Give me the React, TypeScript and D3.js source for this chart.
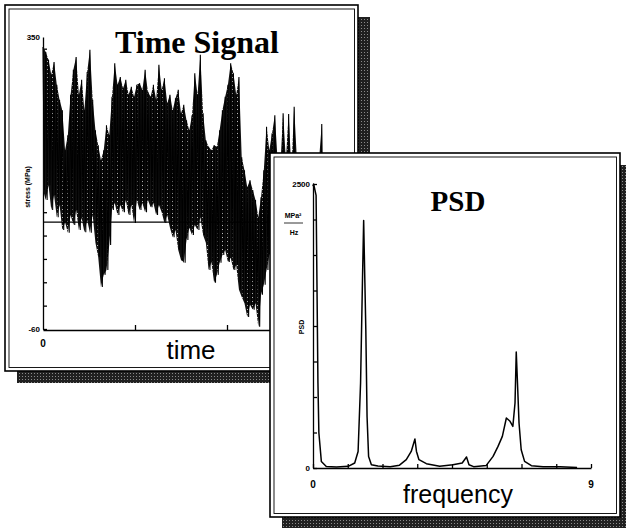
import React, { useEffect, useRef } from 'react';
import * as d3 from 'd3';

const W = 626;
const H = 528;

// time signal, one swing per sample (upper and lower value in MPa), sample step in time units
const timeStep = 0.03;
const stressHigh = [
    336, 329, 318, 297, 315, 283, 262, 247, 191, 212,
    269, 304, 322, 269, 290, 247, 301, 332, 262, 219,
    198, 177, 191, 226, 212, 266, 313, 283, 294, 278,
    290, 269, 280, 266, 283, 285, 276, 304, 273, 266,
    283, 262, 311, 276, 292, 257, 269, 247, 264, 276,
    243, 255, 233, 219, 240, 299, 269, 325, 243, 205,
    196, 191, 198, 196, 219, 247, 266, 283, 313, 299,
    269, 294, 181, 163, 139, 149, 135, 121, 97, 125,
    163, 224, 191, 215, 240, 177, 170, 243, 177, 242,
    163, 252, 177, 156, 170, 149, 163, 156, 170, 149,
    177, 228,
];
const stressLow = [
    135, 121, 142, 107, 128, 97, 114, 79, 90, 75,
    100, 86, 107, 79, 96, 76, 93, 75, 100, 61,
    41, -1, 16, 23, 58, 107, 117, 100, 114, 104,
    121, 100, 114, 89, 121, 107, 117, 104, 121, 111,
    117, 100, 114, 104, 89, 100, 82, 69, 79, 51,
    37, 33, 65, 82, 72, 86, 79, 97, 72, 61,
    23, 34, 5, 16, 33, 44, 51, 34, 40, 23,
    30, -5, -15, -24, -43, -26, -33, -24, -57, -12,
    2, 23, 44, 51, 65, 79, 72, 65, 86, 79,
    58, 65, 51, 44, 58, 37, 51, 44, 58, 37,
    51, 58,
];
const stressMean = 90;
const stressDomain = [-60, 350];
const stressTickLabels = ['-60', '350'];
const timeDomain = [0, 3];
const timeTicks = [1, 2, 3];

// power spectral density
const psdFreq = [
    0, 0.02, 0.1, 0.16, 0.19, 0.27, 0.43, 0.76, 1.14, 1.35,
    1.46, 1.54, 1.6, 1.64, 1.68, 1.71, 1.75, 1.8, 1.89, 2.1,
    2.5, 2.8, 3.02, 3.18, 3.3, 3.35, 3.43, 3.67, 4.1, 4.53,
    4.83, 4.97, 5.05, 5.2, 5.61, 5.83, 5.99, 6.13, 6.26, 6.37,
    6.47, 6.54, 6.58, 6.62, 6.67, 6.74, 6.85, 7.07, 7.45, 8.0,
    8.55,
];
const psdValue = [
    2480, 2500, 2400, 748, 310, 58, 14, 8, 15, 44,
    146, 748, 1628, 2179, 1628, 1217, 454, 102, 29, 18,
    12, 25, 73, 146, 255, 146, 73, 38, 15, 29,
    44, 97, 29, 12, 23, 102, 190, 278, 440, 414,
    366, 572, 1021, 748, 396, 161, 58, 20, 12, 10,
    5,
];
const psdDomain = [0, 2500];
const psdTickLabels = ['0', '2500'];
const freqDomain = [0, 9];
const freqTickLabels = ['0', '9'];

export default function App() {
    const ref = useRef<SVGSVGElement>(null);

    useEffect(() => {
        const svg = d3.select(ref.current);
        svg.selectAll('*').remove();

        svg.append('rect').attr('width', W).attr('height', H).attr('fill', '#fff');

        const defs = svg.append('defs');
        // dithered shadow like the scan
        const pat = defs
            .append('pattern')
            .attr('id', 'dither')
            .attr('width', 3)
            .attr('height', 3)
            .attr('patternUnits', 'userSpaceOnUse');
        pat.append('rect').attr('width', 3).attr('height', 3).attr('fill', '#202020');
        pat.append('rect').attr('x', 1).attr('y', 1).attr('width', 1).attr('height', 1).attr('fill', '#8a8a8a');
        // speckled black for the dense signal band
        const spk = defs
            .append('pattern')
            .attr('id', 'speckle')
            .attr('width', 5)
            .attr('height', 4)
            .attr('patternUnits', 'userSpaceOnUse');
        spk.append('rect').attr('width', 5).attr('height', 4).attr('fill', '#111');
        spk.append('rect').attr('x', 2).attr('y', 1).attr('width', 1).attr('height', 1).attr('fill', '#bbb');

        const sans = 'Liberation Sans, Arial, sans-serif';
        const serif = 'Liberation Serif, Times New Roman, serif';

        function panel(x: number, y: number, w: number, h: number) {
            svg.append('rect')
                .attr('x', x + 12)
                .attr('y', y + 12)
                .attr('width', w)
                .attr('height', h)
                .attr('fill', 'url(#dither)');
            svg.append('rect')
                .attr('x', x)
                .attr('y', y)
                .attr('width', w)
                .attr('height', h)
                .attr('fill', '#fff')
                .attr('stroke', '#000')
                .attr('stroke-width', 1.6);
            svg.append('rect')
                .attr('x', x + 4)
                .attr('y', y + 4)
                .attr('width', w - 7.5)
                .attr('height', h - 7.5)
                .attr('fill', 'none')
                .attr('stroke', '#000')
                .attr('stroke-width', 0.9);
        }

        // ---------- time signal panel ----------
        panel(5, 5, 353, 366);

        const xT = d3.scaleLinear().domain(timeDomain).range([43, 319]);
        const yT = d3.scaleLinear().domain(stressDomain).range([329, 37]);

        const stressTicks = d3.range(stressDomain[0], stressDomain[1], (stressDomain[1] - stressDomain[0]) / 12.5);
        svg.append('g')
            .attr('transform', 'translate(43,0)')
            .call(d3.axisLeft(yT).tickValues(stressTicks).tickSize(-4).tickSizeOuter(0).tickFormat(() => ''))
            .call((g) => g.selectAll('path,line').attr('stroke-width', 1.3));
        svg.append('g')
            .attr('transform', 'translate(0,330)')
            .call(
                d3
                    .axisBottom(xT.copy().range([43, 358]).domain([0, (3 * (358 - 43)) / (319 - 43)]))
                    .tickValues(timeTicks)
                    .tickSize(-5)
                    .tickSizeOuter(0)
                    .tickFormat(() => '')
            )
            .call((g) => g.selectAll('path,line').attr('stroke-width', 1.3));

        // band between the swings, then the swings themselves on top
        const band = d3
            .area<number>()
            .x((d, i) => xT(i * timeStep))
            .y0((d, i) => yT(stressLow[i]))
            .y1((d) => yT(d));
        svg.append('path').attr('d', band(stressHigh)).attr('fill', 'url(#speckle)');

        const zig: [number, number][] = [];
        stressHigh.forEach((v, i) => {
            zig.push([i * timeStep, v]);
            zig.push([i * timeStep + timeStep / 2, stressLow[i]]);
        });
        const line = d3
            .line<[number, number]>()
            .x((d) => xT(d[0]))
            .y((d) => yT(d[1]));
        svg.append('path')
            .attr('d', line(zig))
            .attr('fill', 'none')
            .attr('stroke', '#000')
            .attr('stroke-width', 1.1);
        svg.append('path')
            .attr('d', line([[0, stressMean], [timeDomain[1], stressMean]]))
            .attr('stroke', '#000')
            .attr('stroke-width', 1.4);

        svg.append('text')
            .attr('x', 197)
            .attr('y', 53)
            .attr('text-anchor', 'middle')
            .attr('font-family', serif)
            .attr('font-weight', 'bold')
            .attr('font-size', 32)
            .text('Time Signal');
        svg.append('text')
            .attr('x', 191)
            .attr('y', 359)
            .attr('text-anchor', 'middle')
            .attr('font-family', sans)
            .attr('font-size', 26)
            .text('time');
        svg.append('text')
            .attr('transform', 'translate(30,187) rotate(-90)')
            .attr('text-anchor', 'middle')
            .attr('font-family', sans)
            .attr('font-weight', 'bold')
            .attr('font-size', 7)
            .text('stress (MPa)');
        stressTickLabels.forEach((t, i) => {
            svg.append('text')
                .attr('x', 40)
                .attr('y', yT(stressDomain[i]) + 3)
                .attr('text-anchor', 'end')
                .attr('font-family', sans)
                .attr('font-weight', 'bold')
                .attr('font-size', 8)
                .text(t);
        });
        svg.append('text')
            .attr('x', xT(0))
            .attr('y', 347)
            .attr('text-anchor', 'middle')
            .attr('font-family', sans)
            .attr('font-weight', 'bold')
            .attr('font-size', 10)
            .text('0');

        // ---------- PSD panel ----------
        panel(270, 153, 350, 364);

        const xF = d3.scaleLinear().domain(freqDomain).range([313, 591]);
        const yP = d3.scaleLinear().domain(psdDomain).range([468, 184]);

        svg.append('g')
            .attr('transform', 'translate(313,0)')
            .call(
                d3
                    .axisLeft(yP)
                    .tickValues(d3.range(0, psdDomain[1] + 1, psdDomain[1] / 8))
                    .tickSize(-4)
                    .tickSizeOuter(0)
                    .tickFormat(() => '')
            )
            .call((g) => g.selectAll('path,line').attr('stroke-width', 1.3));
        svg.append('g')
            .attr('transform', 'translate(0,468)')
            .call(
                d3
                    .axisBottom(xF)
                    .tickValues(d3.range(0, freqDomain[1] + 0.01, freqDomain[1] / 8))
                    .tickSize(-4)
                    .tickSizeOuter(0)
                    .tickFormat(() => '')
            )
            .call((g) => g.selectAll('path,line').attr('stroke-width', 1.3));

        const psdLine = d3
            .line<number>()
            .x((d, i) => xF(psdFreq[i]))
            .y((d) => yP(d));
        svg.append('path')
            .attr('d', psdLine(psdValue))
            .attr('fill', 'none')
            .attr('stroke', '#000')
            .attr('stroke-width', 1.5)
            .attr('stroke-linejoin', 'round');

        svg.append('text')
            .attr('x', 458)
            .attr('y', 211)
            .attr('text-anchor', 'middle')
            .attr('font-family', serif)
            .attr('font-weight', 'bold')
            .attr('font-size', 29)
            .text('PSD');
        svg.append('text')
            .attr('x', 458)
            .attr('y', 503)
            .attr('text-anchor', 'middle')
            .attr('font-family', sans)
            .attr('font-size', 25)
            .text('frequency');
        freqTickLabels.forEach((t, i) => {
            svg.append('text')
                .attr('x', xF(freqDomain[i]))
                .attr('y', 488)
                .attr('text-anchor', 'middle')
                .attr('font-family', sans)
                .attr('font-weight', 'bold')
                .attr('font-size', 10)
                .text(t);
        });
        psdTickLabels.forEach((t, i) => {
            svg.append('text')
                .attr('x', 310)
                .attr('y', yP(psdDomain[i]) + 3)
                .attr('text-anchor', 'end')
                .attr('font-family', sans)
                .attr('font-weight', 'bold')
                .attr('font-size', 8)
                .text(t);
        });
        svg.append('text')
            .attr('transform', 'translate(304,327) rotate(-90)')
            .attr('text-anchor', 'middle')
            .attr('font-family', sans)
            .attr('font-weight', 'bold')
            .attr('font-size', 7)
            .text('PSD');
        // units MPa²/Hz as a small fraction
        svg.append('text')
            .attr('x', 293)
            .attr('y', 218)
            .attr('text-anchor', 'middle')
            .attr('font-family', sans)
            .attr('font-weight', 'bold')
            .attr('font-size', 7)
            .text('MPa²');
        svg.append('line')
            .attr('x1', 284)
            .attr('x2', 303)
            .attr('y1', 223)
            .attr('y2', 223)
            .attr('stroke', '#000')
            .attr('stroke-width', 0.8);
        svg.append('text')
            .attr('x', 294)
            .attr('y', 235)
            .attr('text-anchor', 'middle')
            .attr('font-family', sans)
            .attr('font-weight', 'bold')
            .attr('font-size', 7)
            .text('Hz');
    }, []);

    return <svg ref={ref} width={W} height={H} style={{ position: 'absolute', left: 0, top: 0 }} />;
}
